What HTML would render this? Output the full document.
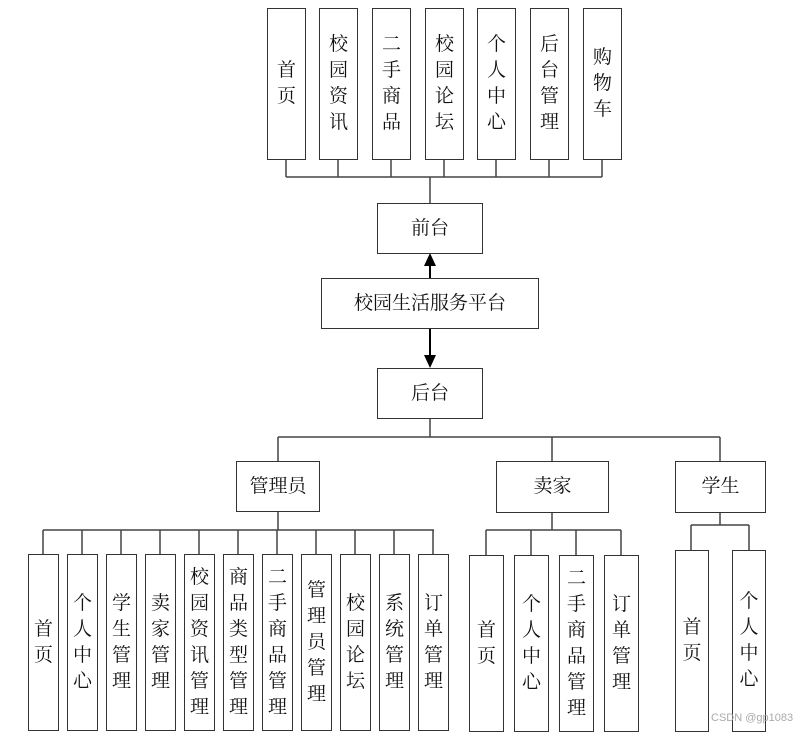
<!DOCTYPE html>
<html><head><meta charset="utf-8"><style>
body{margin:0;width:811px;height:736px;background:#fff;position:relative;overflow:hidden;font-family:"Liberation Serif","Noto Serif CJK SC","Noto Sans CJK SC",serif;color:#111}
.b{position:absolute;box-sizing:border-box;border:1.5px solid #333;background:#fff;display:flex;align-items:center;justify-content:center;text-align:center;font-size:19px;line-height:26px}
.v{line-height:26px;width:20px;word-break:break-all}
svg{position:absolute;left:0;top:0}
.wm{position:absolute;left:711px;top:712px;font:11px "Liberation Sans",sans-serif;color:#aaa}
</style></head><body>
<svg width="811" height="736" stroke="#444" stroke-width="1.5" fill="none">
<path d="M286 159V177M338 159V177M391 159V177M444 159V177M496 159V177M549 159V177M602 159V177M286 177H602M430 177V203"/>
<path d="M430 278V262M430 328V356M278 418" stroke="#000" stroke-width="2"/>
<polygon points="430,253 424,266 436,266" fill="#000" stroke="none"/>
<polygon points="430,368 424,355 436,355" fill="#000" stroke="none"/>
<path d="M430 418V437M278 437H720M278 437V461M552 437V461M720 437V461"/>
<path d="M278 511V530M43 530H434M43 530V554M82 530V554M121 530V554M160 530V554M199 530V554M238 530V554M277 530V554M316 530V554M355 530V554M394 530V554M433 530V554"/>
<path d="M552 512V530M486 530H621M486 530V555M531 530V555M576 530V555M621 530V555"/>
<path d="M720 512V525M691 525H749M691 525V550M749 525V550"/>
</svg>
<div class="b" style="left:267px;top:8px;width:39px;height:152px"><div class="v">首页</div></div>
<div class="b" style="left:319px;top:8px;width:39px;height:152px"><div class="v">校园资讯</div></div>
<div class="b" style="left:372px;top:8px;width:39px;height:152px"><div class="v">二手商品</div></div>
<div class="b" style="left:425px;top:8px;width:39px;height:152px"><div class="v">校园论坛</div></div>
<div class="b" style="left:477px;top:8px;width:39px;height:152px"><div class="v">个人中心</div></div>
<div class="b" style="left:530px;top:8px;width:39px;height:152px"><div class="v">后台管理</div></div>
<div class="b" style="left:583px;top:8px;width:39px;height:152px"><div class="v">购物车</div></div>
<div class="b" style="left:377px;top:203px;width:106px;height:51px">前台</div>
<div class="b" style="left:321px;top:278px;width:218px;height:51px">校园生活服务平台</div>
<div class="b" style="left:377px;top:368px;width:106px;height:51px">后台</div>
<div class="b" style="left:236px;top:461px;width:84px;height:51px">管理员</div>
<div class="b" style="left:496px;top:461px;width:113px;height:52px">卖家</div>
<div class="b" style="left:675px;top:461px;width:91px;height:52px">学生</div>
<div class="b" style="left:28px;top:554px;width:31px;height:177px"><div class="v">首页</div></div>
<div class="b" style="left:67px;top:554px;width:31px;height:177px"><div class="v">个人中心</div></div>
<div class="b" style="left:106px;top:554px;width:31px;height:177px"><div class="v">学生管理</div></div>
<div class="b" style="left:145px;top:554px;width:31px;height:177px"><div class="v">卖家管理</div></div>
<div class="b" style="left:184px;top:554px;width:31px;height:177px"><div class="v">校园资讯管理</div></div>
<div class="b" style="left:223px;top:554px;width:31px;height:177px"><div class="v">商品类型管理</div></div>
<div class="b" style="left:262px;top:554px;width:31px;height:177px"><div class="v">二手商品管理</div></div>
<div class="b" style="left:301px;top:554px;width:31px;height:177px"><div class="v">管理员管理</div></div>
<div class="b" style="left:340px;top:554px;width:31px;height:177px"><div class="v">校园论坛</div></div>
<div class="b" style="left:379px;top:554px;width:31px;height:177px"><div class="v">系统管理</div></div>
<div class="b" style="left:418px;top:554px;width:31px;height:177px"><div class="v">订单管理</div></div>
<div class="b" style="left:469px;top:555px;width:35px;height:177px"><div class="v">首页</div></div>
<div class="b" style="left:514px;top:555px;width:35px;height:177px"><div class="v">个人中心</div></div>
<div class="b" style="left:559px;top:555px;width:35px;height:177px"><div class="v">二手商品管理</div></div>
<div class="b" style="left:604px;top:555px;width:35px;height:177px"><div class="v">订单管理</div></div>
<div class="b" style="left:675px;top:550px;width:34px;height:182px"><div class="v">首页</div></div>
<div class="b" style="left:732px;top:550px;width:34px;height:182px"><div class="v">个人中心</div></div>
<div class="wm">CSDN @gp1083</div>
</body></html>
